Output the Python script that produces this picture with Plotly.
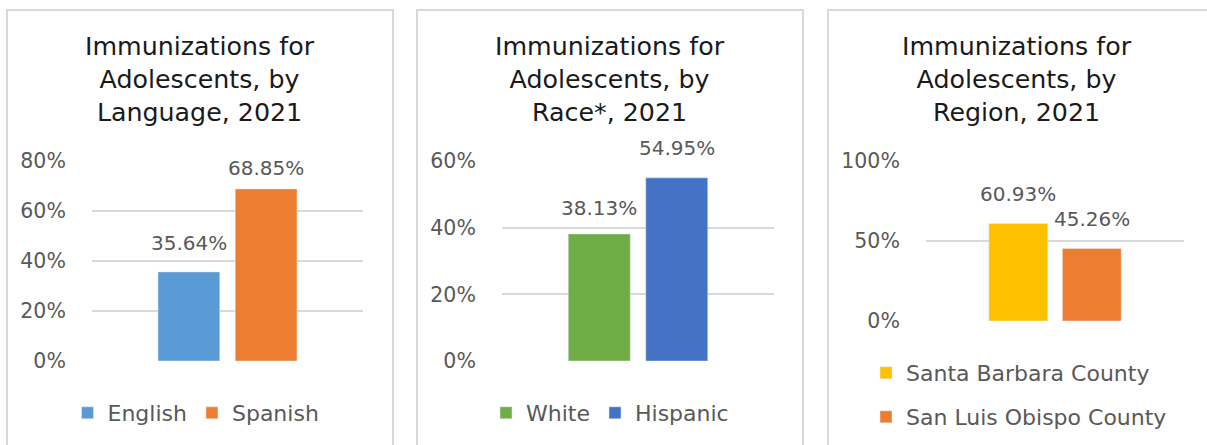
import plotly.graph_objects as go

W, H = 1207, 445
FONT = "DejaVu Sans"
GRAY = "#595959"
GRID = "#d9d9d9"

# ---- data ----
lang_categories = ["English", "Spanish"]
lang_values = [0.3564, 0.6885]
lang_colors = ["#5b9bd5", "#ed7d31"]

race_categories = ["White", "Hispanic"]
race_values = [0.3813, 0.5495]
race_colors = ["#70ad47", "#4472c4"]

region_categories = ["Santa Barbara County", "San Luis Obispo County"]
region_values = [0.6093, 0.4526]
region_colors = ["#ffc000", "#ed7d31"]

titles = [
    "Immunizations for<br>Adolescents, by<br>Language, 2021",
    "Immunizations for<br>Adolescents, by<br>Race*, 2021",
    "Immunizations for<br>Adolescents, by<br>Region, 2021",
]
y_ranges = [[0, 0.8], [0, 0.6], [0, 1.0]]
y_dticks = [0.2, 0.2, 0.5]

BARGAP = 0.43
BARGROUPGAP = 0.2


def px_x(p):
    return p / W


def px_y(p):
    return 1 - p / H


# panel geometry (pixels)
plot_x = [(92, 363), (502, 774), (926, 1184)]
plot_y = [(161, 361), (161, 361), (161, 321)]
panel_x = [(7, 393), (417, 803), (828, 1212)]
panel_center = [200, 610, 1017]

fig = go.Figure()

panels = [
    (lang_categories, lang_values, lang_colors),
    (race_categories, race_values, race_colors),
    (region_categories, region_values, region_colors),
]

legend_names = [["legend", "legend"], ["legend2", "legend2"], ["legend3", "legend4"]]
label_shift = [[15, 7], [12, 16], [16, 16]]

annotations = []
for i, (cats, vals, cols) in enumerate(panels):
    sfx = "" if i == 0 else str(i + 1)
    for j, (c, v, col) in enumerate(zip(cats, vals, cols)):
        fig.add_trace(go.Bar(
            x=[0], y=[v], name=c, marker_color=col,
            xaxis="x" + sfx, yaxis="y" + sfx,
            legend=legend_names[i][j],
            hovertemplate="%{y:.2%}<extra>" + c + "</extra>",
        ))
        off = (1 - BARGAP) / 4 * (1 if j == 1 else -1)
        annotations.append(dict(
            x=off, y=v, xref="x" + sfx, yref="y" + sfx,
            text=f"{v:.2%}", showarrow=False, yanchor="bottom",
            yshift=label_shift[i][j],
            font=dict(family=FONT, size=20, color=GRAY),
        ))
    # title
    annotations.append(dict(
        x=px_x(panel_center[i]), y=px_y(30), xref="paper", yref="paper",
        text=titles[i], showarrow=False, xanchor="center", yanchor="top",
        font=dict(family=FONT, size=25.3, color="#1a1a1a"),
    ))
    fig.update_layout(**{
        "xaxis" + sfx: dict(
            domain=[px_x(plot_x[i][0]), px_x(plot_x[i][1])],
            anchor="y" + sfx, range=[-0.5, 0.5], showticklabels=False,
            showgrid=False, zeroline=False, showline=False, fixedrange=True,
        ),
        "yaxis" + sfx: dict(
            domain=[px_y(plot_y[i][1]), px_y(plot_y[i][0])],
            anchor="x" + sfx, range=y_ranges[i], dtick=y_dticks[i],
            tickformat=".0%", showgrid=True, gridcolor=GRID, gridwidth=2,
            zeroline=False, showline=False, ticks="outside", ticklen=21,
            tickcolor="rgba(0,0,0,0)",
            tickfont=dict(family=FONT, size=20.5, color=GRAY), fixedrange=True,
        ),
    })

shapes = []
for (x0, x1) in panel_x:
    shapes.append(dict(
        type="rect", xref="paper", yref="paper",
        x0=px_x(x0), x1=px_x(x1), y0=px_y(460), y1=px_y(10),
        line=dict(color=GRID, width=2), fillcolor="rgba(0,0,0,0)", layer="below",
    ))

legend_font = dict(family=FONT, size=22, color=GRAY)
fig.update_layout(
    width=W, height=H,
    margin=dict(l=0, r=0, t=0, b=0, autoexpand=False),
    paper_bgcolor="white", plot_bgcolor="white",
    barmode="group", bargap=BARGAP, bargroupgap=BARGROUPGAP,
    annotations=annotations, shapes=shapes,
    legend=dict(orientation="h", x=px_x(panel_center[0] - 4), xanchor="center",
                y=px_y(413), yanchor="middle", font=legend_font,
                bgcolor="rgba(0,0,0,0)"),
    legend2=dict(orientation="h", x=px_x(panel_center[1]), xanchor="center",
                 y=px_y(413), yanchor="middle", font=legend_font,
                 bgcolor="rgba(0,0,0,0)"),
    legend3=dict(orientation="h", x=px_x(866), xanchor="left",
                 y=px_y(373), yanchor="middle", font=legend_font,
                 bgcolor="rgba(0,0,0,0)"),
    legend4=dict(orientation="h", x=px_x(866), xanchor="left",
                 y=px_y(417), yanchor="middle", font=legend_font,
                 bgcolor="rgba(0,0,0,0)"),
    showlegend=True,
)

fig.write_html("out.html")
